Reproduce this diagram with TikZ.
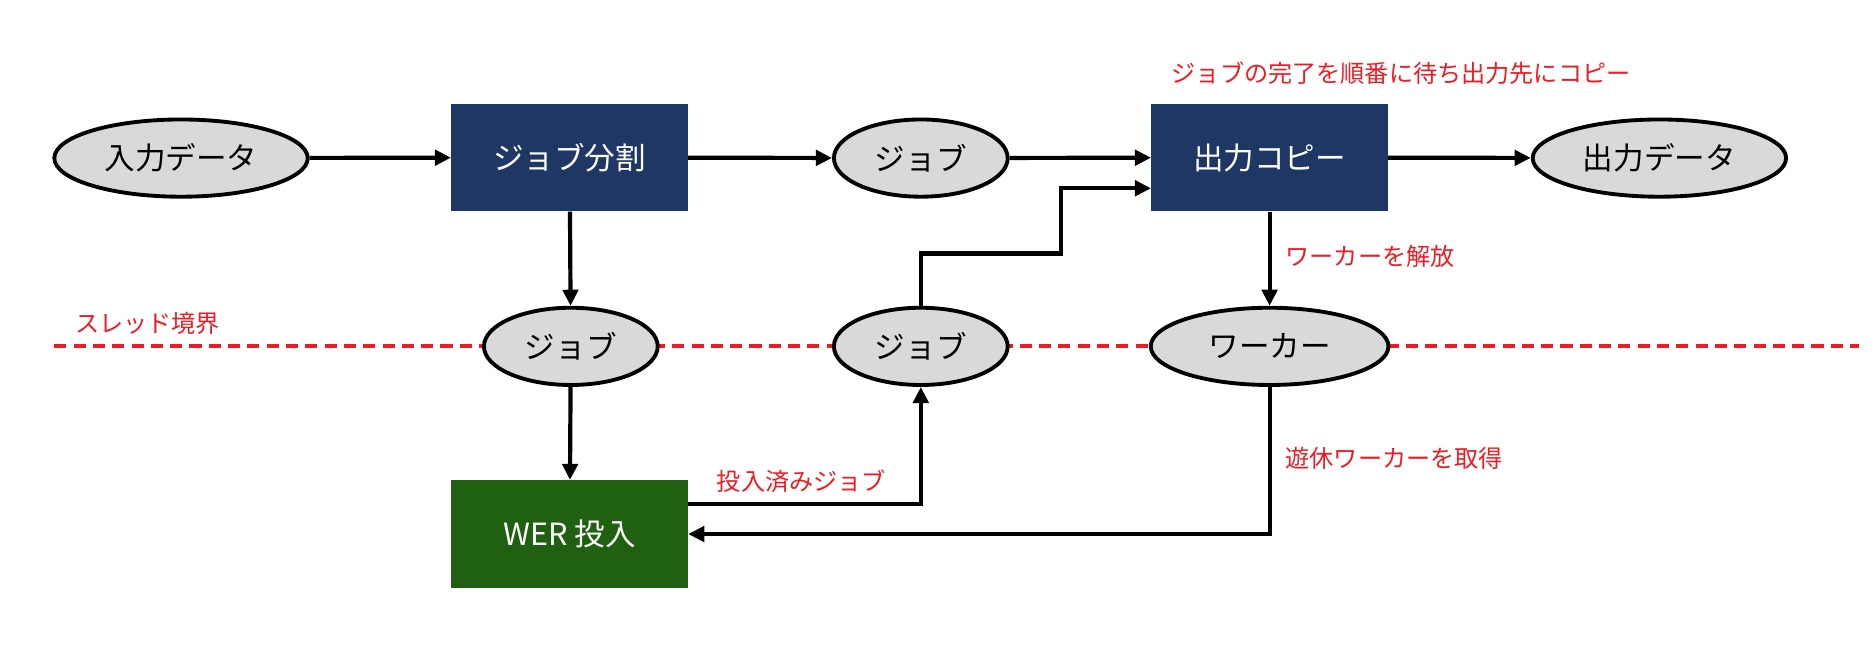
\documentclass[tikz,border=0pt]{standalone}
\usepackage{fontspec}
\setmainfont{Noto Sans CJK JP}
\usetikzlibrary{shapes.geometric,arrows.meta,calc}
\definecolor{navy}{HTML}{1E3764}
\definecolor{wgreen}{HTML}{1F6111}
\definecolor{ngray}{HTML}{D9D9D9}
\definecolor{lred}{HTML}{EC1C24}
\tikzset{
  ell/.style={ellipse,draw=black,line width=2.4pt,fill=ngray,inner sep=0pt,minimum height=48pt,font=\fontsize{19}{21}\selectfont},
  boxn/.style={rectangle,fill=navy,text=white,inner sep=0pt,minimum width=147pt,minimum height=66.75pt,font=\fontsize{19}{21}\selectfont},
  boxg/.style={boxn,fill=wgreen},
  arr/.style={line width=2.6pt,-{Triangle[length=10pt,width=9.5pt]}},
  lbl/.style={text=lred,inner sep=0pt,font=\fontsize{15}{17}\selectfont},
  bound/.style={draw=lred,line width=2.6pt,dash pattern=on 7.5pt off 4.5pt}
}
\begin{document}
\begin{tikzpicture}[x=0.75pt,y=-0.75pt]
\useasboundingbox (0,0) rectangle (1552,538.6);
\draw[bound] (45,287) -- (1540,287);
% top row
\node[ell,minimum width=157.5pt] (in) at (150,131) {入力データ};
\node[boxn] (split) at (472,130.5) {ジョブ分割};
\node[ell,minimum width=108pt] (job1) at (763,131) {ジョブ};
\node[boxn] (copy) at (1052,130.5) {出力コピー};
\node[ell,minimum width=157.5pt] (out) at (1375,131) {出力データ};
% middle row
\node[ell,minimum width=108pt] (job2) at (473,287) {ジョブ};
\node[ell,minimum width=108pt] (job3) at (763,287) {ジョブ};
\node[ell,minimum width=147.75pt] (worker) at (1052,287) {ワーカー};
% bottom
\node[boxg] (wer) at (472,442.5) {WER 投入};
% labels
\node[lbl] (ltitle) at (1161,61) {ジョブの完了を順番に待ち出力先にコピー};
\node[lbl,anchor=west] (lrel) at (1065,212) {ワーカーを解放};
\node[lbl,anchor=west] (lget) at (1065,380) {遊休ワーカーを取得};
\node[lbl] (lsub) at (664,399) {投入済みジョブ};
\node[lbl,anchor=west] (lthr) at (62,268) {スレッド境界};
% connectors
\draw[arr] (in) -- (split);
\draw[arr] (split) -- (job1);
\draw[arr] (job1) -- (copy);
\draw[arr] (copy) -- (out);
\draw[arr] (split) -- (job2);
\draw[arr] (job2) -- (wer);
\coordinate (c1) at ($(wer.north east)+(0,20)$);
\draw[arr] (c1) -| (job3.south);
\coordinate (b1) at (879,210);
\coordinate (c2) at ($(copy.west)+(0,25.5)$);
\draw[arr] (job3.north) |- (b1) |- (c2);
\draw[arr] (copy) -- (worker);
\draw[arr] (worker) |- (wer);
\end{tikzpicture}
\end{document}
